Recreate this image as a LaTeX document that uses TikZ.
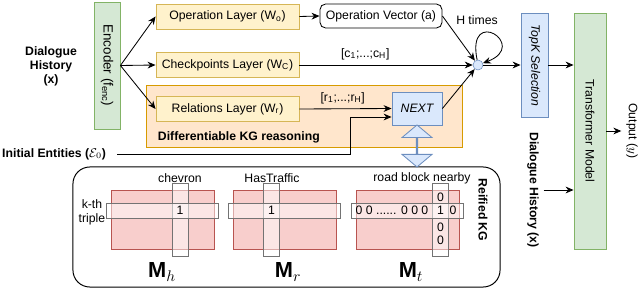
\documentclass[tikz,border=0pt]{standalone}
\usepackage{fontspec}
\setmainfont{Liberation Sans}
\usepackage{amsmath}
\usetikzlibrary{arrows.meta,positioning,shapes.arrows,calc}

\definecolor{layfill}{HTML}{FFF2CC}\definecolor{laydraw}{HTML}{D6B656}
\definecolor{kgfill}{HTML}{FFE6CC}\definecolor{kgdraw}{HTML}{D79B00}
\definecolor{selfill}{HTML}{DAE8FC}\definecolor{seldraw}{HTML}{6C8EBF}
\definecolor{encfill}{HTML}{D5E8D4}\definecolor{encdraw}{HTML}{82B366}
\definecolor{matfill}{HTML}{F8CECC}\definecolor{matdraw}{HTML}{B85450}

\begin{document}
\begin{tikzpicture}[
  x=0.025cm, y=-0.025cm,
  font=\fontsize{8.7}{10}\selectfont, >={Stealth[length=2mm,width=1.7mm]},
  bt/.style={font=\fontsize{8.7}{10}\selectfont\bfseries},
  lay/.style={draw=laydraw, fill=layfill, line width=0.6pt, inner sep=0pt,
              minimum width=3.575cm, minimum height=0.625cm},
  vbox/.style={rotate=-90, line width=0.6pt, inner sep=0pt},
  enc/.style={vbox, draw=encdraw, fill=encfill},
  sel/.style={vbox, draw=seldraw, fill=selfill},
  mat/.style={draw=matdraw, fill=matfill, line width=0.6pt, inner sep=0pt,
              minimum width=2.575cm, minimum height=1.475cm},
  hl/.style={draw=black!55, fill=white, fill opacity=0.5, text opacity=1, inner sep=0pt},
  hrow/.style={hl, minimum width=2.8cm, minimum height=0.375cm},
  hcol/.style={hl, minimum width=0.4cm, minimum height=1.825cm},
  mlbl/.style={font=\fontsize{15.5}{17}\selectfont},
  a/.style={->, line width=0.6pt, draw=black},
]
\useasboundingbox (0,0) rectangle (640,289);

% input side
\node[bt, align=center] (dh) at (51,66) {Dialogue\\History\\(x)};
\node[enc, minimum width=3.175cm, minimum height=0.65cm, font=\fontsize{9.5}{10}\selectfont] (enc) at (107,65.5) {Encoder (f\textsubscript{enc})};

% differentiable KG reasoning block
\node[draw=kgdraw, fill=kgfill, line width=0.6pt, minimum width=7.9cm, minimum height=1.55cm] (dkg) at (304,116) {};
\node[bt, anchor=west] (dkglbl) at (153,137) {Differentiable KG reasoning};

\node[lay] (opl) at (227.5,16.5) {Operation Layer (W\textsubscript{o})};
\node[lay] (ckp) at (227.5,65) {Checkpoints Layer (W\textsubscript{C})};
\node[lay] (rel) at (227.5,109) {Relations Layer (W\textsubscript{r})};

\node[draw, fill=white, rounded corners=4pt, line width=0.6pt, inner sep=0pt,
      minimum width=3.05cm, minimum height=0.6cm] (opv) at (381,16) {Operation Vector (a)};
\node (htimes) at (477,20) {H times};
\node[circle, draw=seldraw, fill=selfill, minimum size=0.25cm, inner sep=0pt] (dot) at (478,65) {};
\node[draw=seldraw, fill=selfill, line width=0.6pt, inner sep=0pt, font=\fontsize{8.7}{10}\selectfont\itshape,
      minimum width=1.25cm, minimum height=0.825cm] (nxt) at (417,108.5) {NEXT};

% output side
\node[sel, minimum width=2.6cm, minimum height=0.675cm, font=\fontsize{8.7}{10}\selectfont\itshape] (topk) at (534.5,65) {TopK Selection};
\node[enc, minimum width=5.9cm, minimum height=0.8cm] (tf) at (590,131) {Transformer Model};
\node[rotate=-90] (out) at (632,131) {Output ($y$)};
\node[bt, rotate=-90] (dh2) at (533,190) {Dialogue History (x)};
\node[bt, anchor=east] (ie) at (111,154) {Initial Entities ($\mathcal{E}_0$)};

% reified KG
\node[draw, rounded corners=12pt, line width=0.7pt, minimum width=10.675cm, minimum height=3cm] (kg) at (286.5,227) {};
\node[bt, rotate=-90] (kglbl) at (483,210) {Reified KG};

\node[mat] (mh) at (162.5,219.5) {};
\node[mat] (mr) at (285,219.5) {};
\node[mat] (mt) at (407.5,219.5) {};
\node[hcol] (mhcol) at (180,219.5) {};
\node[hrow] (mhrow) at (162,210.5) {};
\node[hcol] (mrcol) at (271.5,219.5) {};
\node[hrow] (mrrow) at (284.5,210.5) {};
\node[hcol] (mtcol) at (440.5,219.5) {};
\node[hrow] (mtrow) at (407.5,210.5) {};

\node (chev) at (180,178) {chevron};
\node (hastr) at (272,178) {HasTraffic};
\node (rbn) at (422,178) {road block nearby};
\node[align=center] (kth) at (92,212) {k-th\\triple};
\node (mhone) at (180,210.5) {1};
\node (mrone) at (271.5,210.5) {1};
\node (mtrowtxt) at (392,210.5) {0 0 ...... 0 0 0};
\node (mtone) at (440.5,210.5) {1};
\node (mtlast) at (453,210.5) {0};
\node (mtc1) at (440.5,197) {0};
\node (mtc3) at (440.5,227) {0};
\node (mtc4) at (440.5,240) {0};

\node[mlbl] (mhlbl) at (162,272) {$\mathbf{M}_h$};
\node[mlbl] (mrlbl) at (288,272) {$\mathbf{M}_r$};
\node[mlbl] (mtlbl) at (411,272) {$\mathbf{M}_t$};

% connectors
\draw[a] (enc.north) -- (opl.west);
\draw[a] (enc.north) -- (ckp.west);
\draw[a] (enc.north) -- (rel.west);
\draw[a] (opl.east) -- (opv.west);
\draw[a] (opv.east) -- (dot);
\draw[a] (ckp.east) -- node[above, pos=0.38] {[c\textsubscript{1};...;c\textsubscript{H}]} (dot);
\draw[a] (rel.east) -- node[above, pos=0.47] {[r\textsubscript{1};...;r\textsubscript{H}]} (nxt.west);
\draw[a] (nxt.east) -- (dot);
\draw[a] (dot.100) .. controls (466,5) and (530,45) .. (dot.20);
\draw[a] (dot) -- (topk.south);
\draw[a] (topk.north) -- (topk.north -| tf.south);
\draw[a] (out.south -| tf.north) -- (out.south);
\draw[a] (dh2.north) -- (dh2.north -| tf.south);
\coordinate (iecorner) at (350,117);
\draw[a, shorten <=1.5mm] (ie.east) -| (iecorner) -- (iecorner -| nxt.west);

% NEXT <-> reified KG
\node[double arrow, draw=seldraw, fill=selfill, line width=0.6pt, rotate=90, inner sep=0pt,
      minimum height=1.05cm, minimum width=0.75cm, double arrow head extend=0.26cm,
      double arrow tip angle=100] (kgarrow) at ($(nxt.south)!0.5!(nxt.south |- kg.north)$) {};
\end{tikzpicture}
\end{document}
